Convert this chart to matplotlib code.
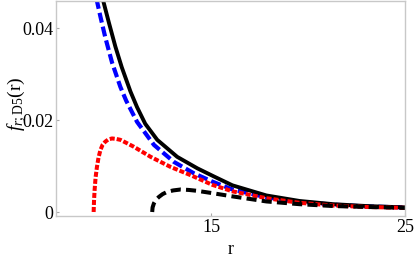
import numpy as np
import matplotlib.pyplot as plt

plt.rcParams['font.family'] = ['Liberation Serif', 'DejaVu Serif']
plt.rcParams['mathtext.fontset'] = 'custom'
plt.rcParams['mathtext.rm'] = 'Liberation Serif'
plt.rcParams['mathtext.it'] = 'Liberation Serif:italic'

# values
r_total = [9.40, 9.72, 10.06, 10.39, 10.84, 11.18, 11.60, 12.22, 13.25, 14.29, 15.16, 16.1, 17.85, 19.56, 21.3, 23.0, 25.0]
f_total = [0.0465, 0.0413, 0.0360, 0.0315, 0.0262, 0.0228, 0.0192, 0.0157, 0.0120, 0.0095, 0.0077, 0.0058, 0.0036, 0.0024, 0.0017, 0.0013, 0.0010]

r_blue = [9.08, 9.29, 9.54, 9.89, 10.32, 10.62, 11.18, 12.05, 13.08, 14.12, 15.07, 16.1, 17.85, 19.56, 21.3, 23.0, 25.0]
f_blue = [0.0465, 0.0425, 0.0380, 0.0325, 0.0272, 0.0242, 0.0196, 0.0146, 0.0109, 0.0084, 0.0066, 0.0049, 0.0032, 0.0022, 0.0016, 0.0012, 0.0010]

r_red = [8.94, 8.96, 8.99, 9.04, 9.11, 9.19, 9.29, 9.40, 9.54, 9.70, 9.89, 10.10, 10.32, 10.60, 11.01, 11.88, 12.91, 13.95, 15.07, 16.1, 17.85, 19.56, 21.3, 23.0, 25.0]
f_red = [0.0, 0.0025, 0.0048, 0.0075, 0.0098, 0.0118, 0.0135, 0.0146, 0.0153, 0.0158, 0.0160, 0.0159, 0.0157, 0.0151, 0.0142, 0.0120, 0.0098, 0.0080, 0.0059, 0.0045, 0.0030, 0.0020, 0.0014, 0.0011, 0.0009]

r_bd = [11.96, 11.98, 12.05, 12.16, 12.31, 12.50, 12.74, 13.05, 13.43, 13.85, 14.29, 15.07, 16.1, 17.85, 19.56, 21.3, 23.0, 25.0]
f_bd = [0.0, 0.0010, 0.0019, 0.0027, 0.0033, 0.0039, 0.0044, 0.0047, 0.0049, 0.0048, 0.0046, 0.0041, 0.0034, 0.0023, 0.0017, 0.0013, 0.0011, 0.0009]

fig = plt.figure(figsize=(4.15, 2.59), dpi=100)
ax = fig.add_axes([0.135, 0.166, 0.841, 0.830])

ax.plot(r_blue, f_blue, color='blue', lw=3.0, dashes=(2.4, 1.0))
ax.plot(r_total, f_total, color='black', lw=2.8, solid_joinstyle='round')
ax.plot(r_red, f_red, color='red', lw=2.9, dashes=(1.25, 0.5))
ax.plot(r_bd, f_bd, color='black', lw=2.9, dashes=(2.5, 1.3))

ax.set_xlim(7, 25)
ax.set_ylim(-0.00087, 0.0459)
ax.set_xticks([15, 25])
ax.set_xticklabels(['15', '25'])
ax.set_yticks([0, 0.02, 0.04])
ax.set_yticklabels(['0', '0.02', '0.04'])
for s in ax.spines.values():
    s.set_color('#c8c8c8')
    s.set_linewidth(1.0)
ax.tick_params(direction='in', length=2.5, color='#a8a8a8', labelsize=13, pad=2,
               top=False, right=False)
ax.set_xlabel('r', fontsize=13)
ax.xaxis.set_label_coords(0.5, -0.115)
ax.set_ylabel(r'$f_{r;\mathrm{D5}}(\mathrm{r})$', fontsize=14)
ax.yaxis.set_label_coords(-0.08, 0.52)

fig.savefig('out.png', dpi=100)
